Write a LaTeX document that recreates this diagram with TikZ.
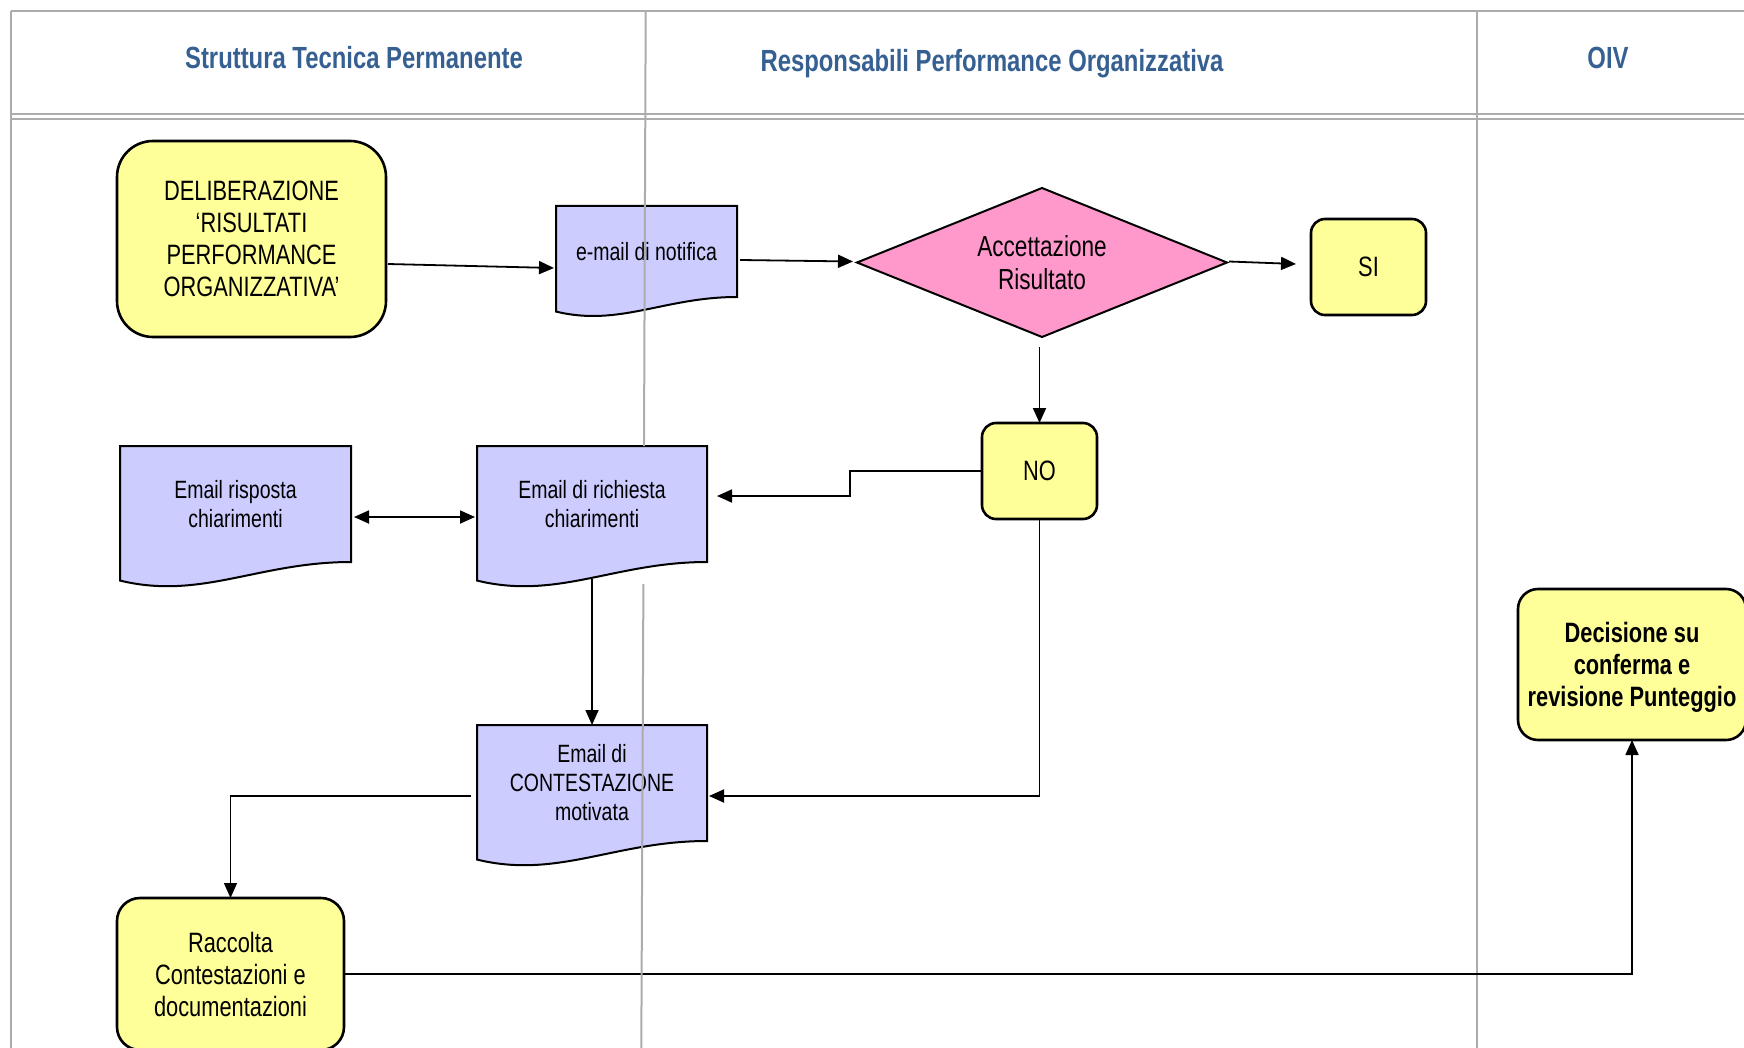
\documentclass[tikz,border=0pt]{standalone}
\usepackage{fontspec}
\setmainfont{Liberation Sans}[FakeStretch=0.78]
\usetikzlibrary{arrows.meta,calc,shapes.geometric}
\definecolor{laneGray}{RGB}{172,172,172}
\definecolor{hdrBlue}{RGB}{54,96,146}
\definecolor{procYellow}{RGB}{255,255,153}
\definecolor{docLav}{RGB}{204,204,255}
\definecolor{decPink}{RGB}{255,153,204}
\pgfdeclarelayer{background}
\pgfsetlayers{background,main}
\newcommand\docshape[1]{%
  \begin{pgfonlayer}{background}
    \path[docfill] let \p1=(#1.north west), \p2=(#1.south east) in
      (\p1) -- (\x2,\y1) -- (\p2)
      .. controls ({\x1+0.6*(\x2-\x1)},\y2) and ({\x1+0.35*(\x2-\x1)},{\y1-1.33*(\y1-\y2)}) ..
      (\x1,{\y1-1.16*(\y1-\y2)}) -- cycle;
  \end{pgfonlayer}}
\tikzset{
  every node/.style={inner sep=0pt, outer sep=0pt},
  proc/.style={draw=black, line width=1.3pt, fill=procYellow, rounded corners=18pt,
    align=center, font=\fontsize{14}{16}\selectfont},
  smallproc/.style={proc, rounded corners=7pt, minimum width=57.5pt, minimum height=48pt},
  docnode/.style={align=center, font=\fontsize{12.5}{14.5}\selectfont,
    minimum width=115pt, minimum height=58pt},
  docfill/.style={draw=black, line width=1pt, fill=docLav},
  decision/.style={diamond, aspect=2.48, draw=black, line width=1pt, fill=decPink,
    minimum width=185pt, minimum height=74.5pt, align=center,
    font=\fontsize{14.5}{16.5}\selectfont},
  conn/.style={draw=black, line width=0.9pt, -{Triangle[length=7.5pt,width=6.5pt]}},
  hdr/.style={font=\bfseries\fontsize{15.3}{18}\selectfont, text=hdrBlue},
  lane/.style={draw=laneGray, line width=1pt},
}
\begin{document}
\begin{tikzpicture}[x=0.5pt,y=-0.5pt]
\useasboundingbox (0,0) rectangle (1744,1048);
% swimlane grid
\draw[lane] (10.7,10.7) -- (1744,10.7);
\draw[lane] (10.7,10.7) -- (10.7,1048);
\draw[lane] (10.7,114.3) -- (1744,114.3);
\draw[lane] (10.7,119.3) -- (1744,119.3);
\draw[lane] (1477.3,10.7) -- (1477.3,1048);
% headers
\node[hdr] (h1) at (354,58) {Struttura Tecnica Permanente};
\node[hdr] (h2) at (992,64) {Responsabili Performance Organizzativa};
\node[hdr] (h3) at (1608,58) {OIV};
% nodes
\node[proc, minimum width=134.5pt, minimum height=98pt] (delib) at (251.5,239)
  {DELIBERAZIONE\\‘RISULTATI\\PERFORMANCE\\ORGANIZZATIVA’};
\node[docnode, minimum width=90.5pt, minimum height=45.5pt] (notif) at (646.5,251.5) {e-mail di notifica};
\docshape{notif}
\node[decision] (dia) at (1042,262.5) {Accettazione\\Risultato};
\node[smallproc] (si) at (1368.5,267) {SI};
\node[smallproc] (no) at (1039.5,471) {NO};
\node[docnode, minimum width=115.5pt] (risp) at (235.5,504) {Email risposta\\chiarimenti};
\docshape{risp}
\node[docnode] (rich) at (592,504) {Email di richiesta\\chiarimenti};
\docshape{rich}
\node[docnode] (cont) at (592,783) {Email di\\CONTESTAZIONE\\motivata};
\docshape{cont}
\node[proc, rounded corners=11.5pt, minimum width=113.5pt, minimum height=76pt] (racc) at (230.5,974)
  {Raccolta\\Contestazioni e\\documentazioni};
\node[proc, rounded corners=10pt, minimum width=114pt, minimum height=75.5pt, text depth=0pt,
  font=\bfseries\fontsize{14}{16}\selectfont] (dec) at (1632,664.5)
  {Decisione su\\conferma e\\revisione Punteggio};
% connectors
\draw[conn] ($(delib.east)+(2,25)$) -- ($(notif.west)+(-2,16.5)$);
\draw[conn] ($(notif.east)+(3,8.5)$) -- ($(dia.west)+(-4,-1)$);
\draw[conn] ($(dia.east)+(2,-1)$) -- ($(si.west)+(-15,-3)$);
\draw[conn] ($(dia.south)+(-2.5,10)$) -- (no.north);
\draw[conn] (no.west) -- ++(-132,0) |- ($(rich.east)+(10,-8)$);
\draw[conn, {Triangle[length=7.5pt,width=6.5pt]}-{Triangle[length=7.5pt,width=6.5pt]}]
  ($(risp.east)+(3,13)$) -- ($(rich.west)+(-2,13)$);
\draw[conn] ($(rich.south)+(0,17)$) -- (cont.north);
\draw[conn] (no.south) |- ($(cont.east)+(2,13)$);
\draw[conn, line width=0.7pt] ($(cont.west)+(-6,13)$) -| (racc.north);
\draw[conn] (racc.east) -| (dec.south);
% lane divider drawn over some shapes, hidden behind "rich"
\draw[lane] (645.7,10.7) -- (644.0,446);
\draw[lane] (643.4,584) -- (641.3,1048);
\end{tikzpicture}
\end{document}
